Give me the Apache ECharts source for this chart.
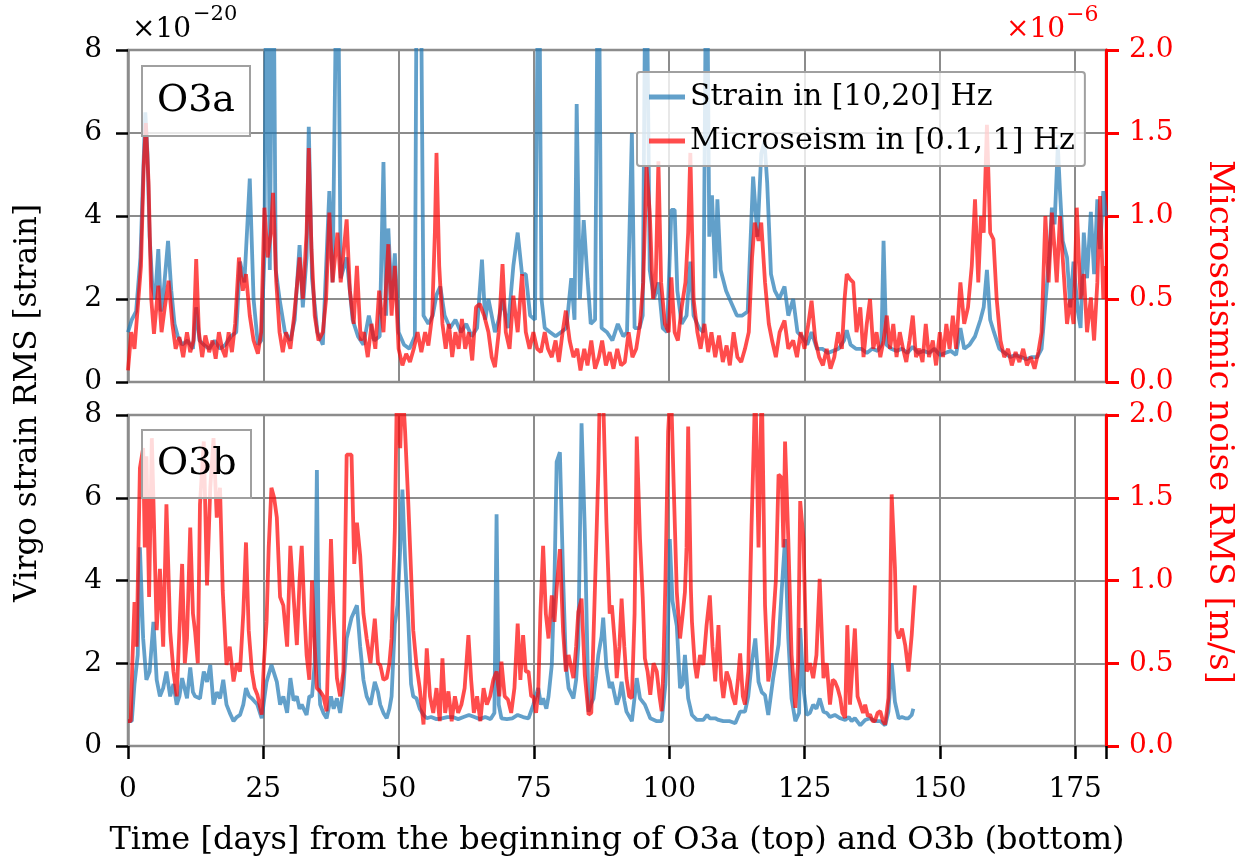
<!DOCTYPE html>
<html><head><meta charset="utf-8">
<script src="https://cdn.jsdelivr.net/npm/echarts@6/dist/echarts.min.js"></script>
<style>html,body{margin:0;padding:0;background:#fff}#c{width:1240px;height:862px}</style>
</head><body><div id="c"></div>
<script>
// ---- data (days, value) ----
// O3a strain RMS, units 1e-20
const o3aStrain = [[0,1.2],[0.7,1.5],[1.5,1.7],[2.3,3.0],[2.8,5.0],[3.2,6.5],[3.6,5.5],[4.0,3.5],[4.5,2.3],[5.0,2.0],[5.6,3.2],[6.1,1.7],[6.6,2.2],[7.4,3.4],[8.0,2.2],[8.6,1.4],[9.2,1.1],[10,0.9],[11,1.0],[12,0.8],[12.6,1.8],[13.2,1.0],[14,0.9],[15,0.8],[16,1.0],[17,0.8],[18,0.9],[19,1.1],[20,1.2],[20.7,2.9],[21.5,2.4],[22.5,4.9],[23.2,2.0],[24,0.9],[24.6,1.0],[25.2,3.0],[25.6,12],[26.2,2.7],[26.8,12],[27.3,2.7],[28,2.0],[29,1.2],[30,1.0],[30.8,1.5],[31.7,3.3],[32.3,1.8],[33.0,3.0],[33.4,6.15],[34,2.5],[35,1.2],[36,0.9],[37.2,4.6],[37.8,2.4],[38.7,12],[39.3,2.5],[40.4,3.0],[41.5,1.5],[42.5,1.1],[43.5,0.9],[44.5,1.6],[45.5,1.0],[46.5,1.1],[47.2,5.3],[47.7,1.6],[48.1,3.7],[48.7,2.0],[49.3,3.1],[50,1.2],[51,0.9],[52,0.8],[53,1.1],[53.4,12],[54.0,12],[54.6,1.6],[55.5,1.4],[56.3,1.6],[57,2.1],[57.7,2.3],[58.5,1.6],[59.5,1.3],[60.5,1.5],[61.5,1.2],[62.5,1.4],[63.5,1.1],[64.5,1.3],[65.4,2.95],[66.0,1.5],[66.6,2.0],[67.8,1.2],[68.5,1.5],[69.2,2.0],[70.2,1.3],[71.2,2.8],[72.0,3.6],[72.8,2.6],[73.5,2.6],[74.3,1.6],[75.2,1.5],[75.9,12],[76.4,2.0],[77,1.3],[78,1.2],[79,1.1],[80,1.2],[81,1.3],[81.9,2.5],[82.5,1.5],[82.9,6.7],[83.5,2.0],[84.2,3.9],[84.9,2.5],[85.5,1.4],[86.3,1.5],[86.9,12],[87.5,1.3],[88.5,1.2],[89.5,1.0],[90.5,1.4],[91.5,1.1],[92.2,1.2],[93.1,6.0],[93.6,1.3],[94.5,1.3],[95.1,1.6],[95.7,12],[96.4,2.7],[97.2,2.0],[98.0,2.4],[98.8,1.3],[99.6,1.2],[100.4,4.15],[101,4.15],[101.5,2.2],[102.3,1.4],[103.2,1.6],[103.9,2.9],[104.5,1.6],[105.5,1.3],[106.3,1.2],[106.9,12],[107.4,3.5],[107.9,4.5],[108.5,2.5],[108.9,4.4],[109.5,2.7],[110.5,2.2],[111.5,1.9],[112.5,1.6],[113.5,1.6],[114.5,1.7],[115.5,4.95],[116.3,3.5],[117.0,5.5],[117.6,5.8],[118.1,4.8],[118.8,2.6],[119.5,2.2],[120.3,2.0],[121.3,2.3],[122.0,1.6],[122.9,2.0],[123.7,1.2],[124.5,1.1],[125.5,0.9],[126.3,1.2],[127.3,0.8],[128.3,0.8],[129.3,0.7],[130.3,0.75],[131.3,0.8],[132.3,1.0],[132.8,1.25],[133.5,0.9],[134.5,0.8],[135.5,0.8],[136.5,0.7],[137.5,0.8],[138.5,0.75],[139.2,0.9],[139.6,3.4],[140.1,0.9],[141,0.8],[142,0.75],[143,0.8],[144,0.7],[145,0.85],[146,0.7],[147,0.75],[148,0.7],[149,0.8],[150,0.65],[151,0.7],[152,0.75],[153,0.65],[153.8,1.3],[154.5,0.8],[155.5,0.9],[156.5,1.1],[157.5,1.5],[158.1,1.8],[158.7,2.7],[159.3,1.5],[160,1.2],[161,0.8],[162,0.7],[163,0.6],[164,0.65],[165,0.6],[166,0.55],[167,0.6],[168,0.6],[168.8,0.8],[169.5,1.9],[170.2,3.0],[170.7,4.2],[171.2,3.8],[171.8,5.7],[172.2,4.6],[172.7,3.4],[173.5,3.0],[174.1,1.8],[174.7,2.9],[175.5,1.7],[176.0,1.3],[176.6,3.6],[177.2,2.5],[177.9,4.1],[178.5,2.6],[179.1,4.4],[179.6,3.2],[180.2,4.6],[180.7,4.0]];
// O3a microseism RMS, units 1e-6 m/s
const o3aMicro = [[0,0.07],[0.6,0.3],[1.2,0.2],[1.8,0.45],[2.4,0.7],[2.9,1.3],[3.3,1.56],[3.8,1.2],[4.3,0.5],[4.8,0.29],[5.6,0.58],[6.2,0.3],[6.8,0.45],[7.5,0.61],[8.2,0.35],[8.8,0.2],[9.5,0.27],[10.2,0.15],[10.9,0.3],[11.5,0.18],[12.1,0.25],[12.6,0.74],[13.1,0.3],[13.7,0.15],[14.3,0.28],[15,0.18],[15.6,0.25],[16.2,0.14],[16.8,0.3],[17.4,0.2],[18,0.15],[18.6,0.3],[19.2,0.18],[19.8,0.35],[20.5,0.75],[21.2,0.55],[21.8,0.65],[22.5,0.4],[23.2,0.25],[24,0.17],[24.6,0.3],[25.2,1.05],[25.8,0.75],[26.4,0.9],[26.8,1.14],[27.4,0.6],[28,0.3],[28.6,0.18],[29.2,0.3],[30,0.2],[30.7,0.4],[31.7,0.75],[32.3,0.5],[33.0,0.9],[33.4,1.41],[33.9,0.8],[34.5,0.4],[35.2,0.25],[36,0.3],[36.6,0.5],[37.2,1.02],[37.8,0.6],[38.7,0.9],[39.3,0.6],[40.4,0.98],[41,0.55],[41.7,0.35],[42.3,0.7],[43,0.25],[43.6,0.3],[44.3,0.15],[45,0.35],[45.7,0.2],[46.4,0.55],[47.2,0.3],[48.1,0.83],[48.7,0.4],[49.3,0.7],[50,0.2],[50.7,0.1],[51.4,0.17],[52.1,0.12],[52.8,0.2],[53.5,0.3],[54.2,0.18],[54.9,0.3],[55.5,0.22],[56.2,0.4],[56.7,0.9],[57.0,1.38],[57.5,0.7],[58.1,0.35],[58.7,0.2],[59.3,0.35],[59.9,0.15],[60.5,0.3],[61.1,0.2],[61.7,0.38],[62.3,0.2],[63,0.3],[63.6,0.13],[64.3,0.45],[65.0,0.47],[65.8,0.4],[66.6,0.3],[67.2,0.15],[67.8,0.09],[68.5,0.3],[69.2,0.71],[69.8,0.3],[70.5,0.2],[71.2,0.52],[72.0,0.3],[72.8,0.65],[73.5,0.3],[74.2,0.2],[74.9,0.3],[75.6,0.2],[76.3,0.18],[77,0.3],[77.6,0.2],[78.3,0.15],[79,0.25],[79.6,0.12],[80.3,0.3],[80.9,0.43],[81.6,0.25],[82.3,0.15],[83,0.2],[83.6,0.07],[84.3,0.2],[84.9,0.1],[85.6,0.25],[86.3,0.08],[87,0.15],[87.6,0.25],[88.3,0.1],[89,0.18],[89.7,0.08],[90.4,0.2],[91.1,0.1],[91.8,0.12],[92.5,0.3],[93.2,0.15],[93.9,0.2],[94.6,0.35],[95.2,0.6],[95.8,1.3],[96.4,1.02],[97,0.5],[97.5,0.6],[98.0,1.33],[98.5,0.6],[99.2,0.35],[99.9,0.3],[100.4,0.63],[101,0.3],[101.6,0.25],[102.3,0.45],[103.0,0.6],[103.5,0.9],[103.9,1.38],[104.5,0.5],[105.2,0.3],[105.8,0.2],[106.5,0.35],[107.2,0.18],[107.8,0.3],[108.5,0.15],[109.2,0.28],[109.9,0.12],[110.6,0.22],[111.2,0.1],[111.9,0.3],[112.6,0.15],[113.3,0.12],[114.0,0.2],[114.7,0.3],[115.3,0.75],[115.8,0.96],[116.5,0.85],[117.0,0.96],[117.7,0.6],[118.4,0.35],[119.0,0.25],[119.7,0.15],[120.4,0.3],[121.3,0.37],[122.0,0.2],[122.9,0.25],[123.6,0.15],[124.3,0.3],[125.0,0.2],[125.7,0.35],[126.3,0.49],[127.0,0.25],[127.7,0.15],[128.4,0.1],[129.1,0.2],[129.8,0.08],[130.5,0.15],[131.2,0.3],[131.9,0.2],[132.4,0.5],[132.8,0.65],[133.4,0.62],[134.0,0.6],[134.6,0.3],[135.3,0.45],[135.9,0.15],[136.5,0.35],[137.1,0.5],[137.7,0.2],[138.3,0.3],[139,0.15],[139.6,0.25],[140.2,0.4],[140.8,0.2],[141.4,0.35],[142.0,0.15],[142.6,0.3],[143.2,0.2],[143.8,0.12],[144.4,0.25],[145.0,0.4],[145.6,0.15],[146.2,0.2],[146.8,0.12],[147.4,0.35],[148.0,0.15],[148.7,0.25],[149.3,0.1],[150.0,0.3],[150.6,0.15],[151.2,0.35],[151.8,0.2],[152.4,0.4],[153.0,0.2],[153.8,0.6],[154.5,0.35],[155.2,0.45],[155.9,0.7],[156.5,1.1],[157.1,0.6],[157.6,1.0],[158.1,0.9],[158.7,1.55],[159.3,0.9],[159.9,0.86],[160.5,0.5],[161.2,0.25],[161.9,0.15],[162.6,0.2],[163.3,0.1],[164.0,0.18],[164.7,0.12],[165.4,0.2],[166.1,0.1],[166.8,0.15],[167.5,0.08],[168.2,0.18],[168.8,0.3],[169.5,1.0],[170.1,0.6],[170.7,1.02],[171.2,0.8],[171.6,0.6],[172.2,1.0],[172.8,0.7],[173.5,0.35],[174.1,0.5],[174.7,0.35],[175.3,1.05],[176.0,0.5],[176.6,0.65],[177.2,0.3],[177.9,0.51],[178.5,0.25],[179.1,0.6],[179.6,1.12],[180.2,0.5],[180.7,0.7]];
// O3b strain RMS, units 1e-20
const o3bStrain = [[0,0.6],[0.7,0.6],[1.2,1.5],[1.8,2.2],[2.2,4.8],[2.8,2.6],[3.4,1.6],[4.0,1.8],[4.7,3.0],[5.3,1.6],[5.9,1.2],[6.5,1.4],[7.1,1.8],[7.8,1.2],[8.4,1.5],[9.0,1.0],[9.5,1.2],[10.0,1.64],[10.9,1.15],[11.5,1.9],[12.0,1.3],[12.4,1.2],[13.3,1.15],[14.0,1.8],[14.6,1.55],[15.2,1.96],[15.8,1.0],[16.4,1.3],[17.0,1.15],[17.6,1.6],[18.2,1.0],[18.8,0.8],[19.5,0.6],[20.1,0.7],[20.7,0.75],[21.3,1.0],[21.8,1.4],[22.4,1.2],[22.9,1.15],[23.9,1.0],[24.7,0.67],[25.6,1.55],[26.5,1.96],[27.5,1.55],[28.1,1.0],[28.7,1.2],[29.4,0.8],[30.0,1.64],[30.6,1.1],[31.2,1.2],[31.7,0.9],[32.1,1.0],[33.0,0.75],[33.5,1.2],[34.0,1.2],[34.5,2.0],[34.9,6.67],[35.3,1.5],[35.5,1.0],[36.1,0.8],[36.7,0.67],[37.5,1.2],[38.0,0.9],[38.6,1.15],[39.2,0.8],[39.8,1.4],[40.4,2.6],[41.3,3.1],[42.3,3.4],[42.9,2.4],[43.5,1.6],[44.1,1.2],[44.8,1.0],[45.6,1.55],[46.2,1.3],[46.6,1.0],[47.2,0.8],[47.8,0.67],[48.3,0.9],[48.7,1.2],[49.3,2.95],[49.8,3.4],[50.3,4.8],[50.7,6.2],[51.2,4.5],[51.8,3.0],[52.3,1.5],[52.7,1.2],[53.3,1.15],[53.9,0.9],[54.6,0.75],[55.2,0.67],[56,0.7],[57,0.65],[58,0.67],[59,0.7],[60,0.7],[61,0.65],[62,0.7],[63,0.75],[64,0.7],[65,0.65],[66,0.7],[67,0.65],[67.7,0.8],[68.1,5.6],[68.5,1.0],[69,0.67],[70,0.65],[71,0.67],[72,0.75],[73,0.7],[74,0.67],[74.9,1.0],[75.8,1.4],[76.3,1.0],[76.7,1.15],[77.3,0.9],[77.7,1.2],[78.3,1.96],[78.8,4.0],[79.2,6.87],[79.8,7.1],[80.4,4.05],[80.9,2.0],[81.4,1.4],[82.3,1.15],[82.8,1.6],[83.2,2.45],[83.8,7.8],[84.4,5.2],[85.1,0.83],[85.5,1.0],[86.0,1.15],[86.5,1.7],[86.9,2.2],[87.5,2.65],[87.8,3.1],[88.4,1.9],[89.0,1.4],[89.4,1.55],[90.3,1.0],[90.8,1.2],[91.2,1.55],[91.7,1.1],[92.1,0.83],[93.1,0.6],[94.0,1.64],[94.6,1.15],[95.5,1.0],[96.5,0.67],[97.7,0.6],[98.6,0.6],[98.9,0.6],[99.3,1.5],[99.8,3.0],[100.1,5.0],[100.6,3.5],[101.4,2.9],[102.0,1.4],[102.5,1.5],[102.9,2.2],[103.5,1.15],[104.2,0.75],[105.1,0.63],[106.3,0.63],[107,0.75],[107.5,0.67],[108.5,0.67],[109.1,0.63],[110,0.6],[111.2,0.6],[112.2,0.55],[113.1,0.83],[114.0,0.83],[114.6,1.2],[115.2,1.96],[115.9,2.6],[116.5,1.55],[117.1,1.3],[117.7,1.23],[118.3,0.75],[119.2,1.64],[120.2,2.45],[120.8,3.8],[121.4,5.0],[122.0,2.6],[122.6,1.15],[123.3,0.6],[124.0,0.8],[124.2,2.85],[124.8,1.4],[125.4,0.75],[126.0,0.8],[126.6,1.0],[127.2,0.9],[127.8,1.15],[128.5,0.83],[129.1,0.8],[129.7,0.7],[130.6,0.75],[131.6,0.67],[132.5,0.63],[133.2,0.7],[133.7,0.6],[134.3,0.67],[135.3,0.5],[136.2,0.63],[137.1,0.67],[138.0,0.6],[139.0,0.6],[139.9,0.5],[140.5,0.83],[141.1,2.0],[141.7,1.07],[142.4,0.67],[143.0,0.7],[143.6,0.67],[144.2,0.67],[144.8,0.75],[145.1,0.9]];
// O3b microseism RMS, units 1e-6 m/s
const o3bMicro = [[0,0.15],[0.5,0.15],[0.8,0.5],[1.2,0.87],[1.6,0.6],[2.2,1.68],[2.8,1.8],[3.1,1.2],[3.4,1.75],[3.9,0.9],[4.4,1.86],[4.7,1.48],[5.3,0.7],[5.9,1.07],[6.5,0.6],[7.1,1.46],[7.8,0.69],[8.4,0.45],[9.0,0.3],[9.5,0.7],[10.0,1.1],[10.5,0.5],[10.9,0.65],[11.5,1.32],[12.0,0.8],[12.4,0.69],[12.9,0.5],[13.3,1.46],[14.0,1.84],[14.6,0.97],[15.2,1.56],[15.8,1.86],[16.4,1.38],[17.0,1.56],[17.5,0.94],[18.2,0.49],[18.8,0.6],[19.5,0.39],[20.1,0.5],[20.7,0.45],[21.3,0.8],[21.8,1.23],[22.3,0.7],[22.9,0.45],[23.4,0.35],[23.9,0.31],[24.7,0.19],[25.1,0.5],[25.6,0.75],[26.0,1.2],[26.5,1.56],[27.0,1.5],[27.5,1.38],[28.1,0.9],[28.7,0.85],[29.4,0.6],[30.0,1.21],[30.6,0.9],[31.2,0.61],[31.7,1.0],[32.1,1.21],[32.6,0.8],[33.0,0.55],[33.5,0.4],[34.0,1.0],[34.5,0.6],[34.9,0.35],[35.5,0.33],[36.1,0.3],[36.7,0.21],[37.1,0.7],[37.5,1.25],[38.0,0.8],[38.6,0.41],[39.2,0.3],[39.8,0.45],[40.4,1.76],[41.3,1.76],[41.8,1.1],[42.3,1.35],[42.9,1.15],[43.5,0.8],[44.1,0.65],[44.8,0.5],[45.6,0.77],[46.2,0.5],[46.6,0.49],[47.2,0.4],[47.8,0.41],[48.3,0.5],[48.7,0.65],[49.3,1.3],[49.7,2.2],[50.3,1.8],[50.7,2.2],[51.2,1.9],[51.8,1.46],[52.3,1.05],[52.7,0.7],[53.3,0.49],[53.9,0.35],[54.6,0.13],[55.2,0.59],[55.8,0.3],[56.4,0.2],[57.0,0.35],[57.6,0.15],[58.1,0.53],[58.6,0.2],[59.2,0.33],[59.8,0.15],[60.4,0.3],[61.0,0.2],[61.6,0.25],[62.2,0.35],[62.9,0.67],[63.4,0.4],[63.9,0.2],[64.5,0.3],[65.1,0.15],[65.7,0.35],[66.3,0.25],[66.9,0.3],[67.5,0.4],[68.1,0.45],[68.6,0.3],[69.0,0.51],[69.6,0.3],[70.2,0.28],[70.8,0.2],[71.4,0.35],[72.0,0.74],[72.5,0.4],[73.0,0.67],[73.5,0.45],[74.0,0.45],[74.5,0.3],[74.9,0.3],[75.4,0.2],[75.8,0.33],[76.2,0.8],[76.7,1.21],[77.2,0.8],[77.7,0.65],[78.3,0.91],[78.8,0.75],[79.2,0.95],[79.8,1.19],[80.4,0.69],[80.9,0.45],[81.4,0.55],[82.3,0.41],[82.8,0.6],[83.2,0.81],[83.8,0.89],[84.4,0.43],[85.1,0.19],[85.6,0.2],[86.0,0.65],[86.5,1.2],[86.9,1.66],[87.2,2.2],[87.8,2.1],[88.4,1.35],[89.0,0.8],[89.4,0.85],[90.0,0.6],[90.3,0.41],[90.8,0.6],[91.2,0.89],[91.7,0.6],[92.1,0.41],[92.6,0.3],[93.1,0.29],[93.6,0.8],[94.0,1.87],[94.6,1.25],[95.1,0.9],[95.5,0.53],[96.0,0.45],[96.5,0.31],[97.1,0.5],[97.7,0.45],[98.2,0.3],[98.6,0.21],[98.9,0.45],[99.3,1.0],[99.8,1.9],[100.3,2.2],[100.8,1.6],[101.4,0.93],[102.0,0.65],[102.5,0.8],[102.9,0.93],[103.2,1.2],[103.5,1.93],[104.0,0.95],[104.2,0.75],[104.7,0.5],[105.1,0.41],[105.7,0.55],[106.3,0.49],[106.9,0.73],[107.5,0.91],[108.0,0.6],[108.5,0.39],[109.1,0.73],[109.6,0.4],[110.0,0.29],[110.6,0.45],[111.2,0.39],[111.7,0.3],[112.2,0.25],[112.7,0.4],[113.1,0.56],[113.6,0.3],[114.0,0.25],[114.6,0.45],[115.2,1.32],[115.6,1.8],[115.9,2.2],[116.5,1.2],[117.1,2.2],[117.4,2.2],[117.7,0.85],[118.3,0.39],[118.8,0.5],[119.2,0.75],[119.7,1.0],[120.2,1.64],[120.8,1.62],[121.1,1.2],[121.4,1.84],[122.0,1.25],[122.6,0.55],[123.3,0.23],[123.8,0.5],[124.2,1.48],[124.8,1.25],[125.4,0.45],[126.0,0.5],[126.6,0.41],[127.2,0.55],[127.8,1.01],[128.5,0.41],[129.1,0.5],[129.7,0.25],[130.2,0.4],[130.6,0.39],[131.1,0.35],[131.6,0.29],[132.0,0.2],[132.5,0.17],[132.9,0.73],[133.4,0.25],[133.7,0.25],[134.3,0.71],[134.8,0.3],[135.3,0.25],[135.8,0.2],[136.2,0.25],[136.7,0.18],[137.1,0.19],[137.6,0.15],[138.0,0.15],[138.5,0.2],[139.0,0.21],[139.5,0.15],[139.9,0.13],[140.5,0.29],[140.8,0.8],[141.1,1.52],[141.7,1.08],[142.0,0.7],[142.4,0.65],[143.0,0.71],[143.6,0.61],[144.2,0.45],[144.8,0.67],[145.4,0.97]];

const xTicks = [0,25,50,75,100,125,150,175];
const strainTicks = [0,2,4,6,8];
const microTicks = [0.0,0.5,1.0,1.5,2.0];
const seriesNames = ['Strain in [10,20] Hz','Microseism in [0.1, 1] Hz'];
const panelLabels = ['O3a','O3b'];
const xTitle = 'Time [days] from the beginning of O3a (top) and O3b (bottom)';
const yLeftTitle = 'Virgo strain RMS [strain]';
const yRightTitle = 'Microseismic noise RMS [m/s]';

// ---- styling ----
const FONT = 'DejaVu Serif';
const GRIDC = '#8c8c8c';
const BLUE = '#1f77b4';
const RED = '#ff0000';
const xMax = 180.7;

const chart = echarts.init(document.getElementById('c'), null, {renderer:'canvas'});

function xAxisFor(gi, showLabels){
  return {
    type:'value', gridIndex:gi, min:0, max:xMax, interval:25,
    axisLine:{show:false},
    axisTick:{show:showLabels, inside:false, length:13, lineStyle:{color:'#000', width:2.5}},
    axisLabel:{show:showLabels, color:'#000', fontFamily:FONT, fontSize:28, margin:30,
      formatter:v => xTicks.includes(v) ? String(v) : ''},
    splitLine:{show:true, lineStyle:{color:GRIDC, width:2}}
  };
}
function yLeft(gi){
  return {
    type:'value', gridIndex:gi, min:strainTicks[0], max:strainTicks[strainTicks.length-1], interval:2, position:'left',
    axisLine:{show:true, lineStyle:{color:GRIDC, width:2.5}},
    axisTick:{show:true, inside:false, length:12, lineStyle:{color:'#000', width:2.5}},
    axisLabel:{color:'#000', fontFamily:FONT, fontSize:28, margin:26},
    splitLine:{show:true, lineStyle:{color:GRIDC, width:2}}
  };
}
function yRight(gi){
  return {
    type:'value', gridIndex:gi, min:microTicks[0], max:microTicks[microTicks.length-1], interval:0.5, position:'right',
    axisLine:{show:true, onZero:false, lineStyle:{color:RED, width:3}},
    axisTick:{show:true, inside:false, length:13, lineStyle:{color:RED, width:3}},
    axisLabel:{color:RED, fontFamily:FONT, fontSize:28, margin:23, formatter:v=>v.toFixed(1)},
    splitLine:{show:false}
  };
}
function lineSeries(name, data, xi, yi, color){
  return {
    type:'line', name, data, xAxisIndex:xi, yAxisIndex:yi,
    showSymbol:false, symbol:'none', clip:true, silent:true,
    itemStyle:{color, opacity:0.7},
    lineStyle:{color, width:3.8, opacity:0.7}
  };
}

const option = {
  animation:false,
  backgroundColor:'#fff',
  grid:[
    {left:128, top:50, width:978, height:332, show:true, borderColor:GRIDC, borderWidth:2.5, backgroundColor:'transparent'},
    {left:128, top:415, width:978, height:331, show:true, borderColor:GRIDC, borderWidth:2.5, backgroundColor:'transparent'}
  ],
  xAxis:[xAxisFor(0,false), xAxisFor(1,true)],
  yAxis:[yLeft(0), yRight(0), yLeft(1), yRight(1)],
  legend:{
    orient:'vertical', left:637, top:72, data:seriesNames,
    itemWidth:36, itemHeight:5, icon:'rect', itemGap:14,
    padding:[10,10,10,12],
    backgroundColor:'rgba(255,255,255,0.8)', borderColor:'#a0a0a0', borderWidth:2, borderRadius:3,
    textStyle:{fontFamily:FONT, fontSize:30, color:'#000'},
    selectedMode:false
  },
  title:[
    {text:panelLabels[0], left:142, top:66, padding:[16,15,16,15], borderColor:'#a0a0a0', borderWidth:2, backgroundColor:'rgba(255,255,255,0.8)', textStyle:{fontFamily:FONT, fontSize:38, fontWeight:'normal', color:'#000'}},
    {text:panelLabels[1], left:142, top:430, padding:[15,15,15,15], borderColor:'#a0a0a0', borderWidth:2, backgroundColor:'rgba(255,255,255,0.8)', textStyle:{fontFamily:FONT, fontSize:38, fontWeight:'normal', color:'#000'}}
  ],
  graphic:[
    {type:'text', left:132, top:16, style:{text:'×10', font:'28px "DejaVu Serif"', fill:'#000'}},
    {type:'text', left:193, top:4, style:{text:'−20', font:'21px "DejaVu Serif"', fill:'#000'}},
    {type:'text', left:1006, top:16, style:{text:'×10', font:'28px "DejaVu Serif"', fill:RED}},
    {type:'text', left:1066, top:4, style:{text:'−6', font:'22px "DejaVu Serif"', fill:RED}},
    {type:'text', x:28, y:403, rotation:Math.PI/2, style:{text:yLeftTitle, font:'31px "DejaVu Serif"', fill:'#000', align:'center', verticalAlign:'middle'}},
    {type:'text', x:1219, y:422, rotation:-Math.PI/2, style:{text:yRightTitle, font:'34px "DejaVu Serif"', fill:RED, align:'center', verticalAlign:'middle'}},
    {type:'text', x:617, y:841, style:{text:xTitle, font:'32px "DejaVu Serif"', fill:'#000', align:'center', verticalAlign:'middle'}}
  ],
  series:[
    lineSeries(seriesNames[0], o3aStrain, 0, 0, BLUE),
    lineSeries(seriesNames[1], o3aMicro, 0, 1, RED),
    lineSeries(seriesNames[0], o3bStrain, 1, 2, BLUE),
    lineSeries(seriesNames[1], o3bMicro, 1, 3, RED)
  ]
};
chart.setOption(option);
</script></body></html>
